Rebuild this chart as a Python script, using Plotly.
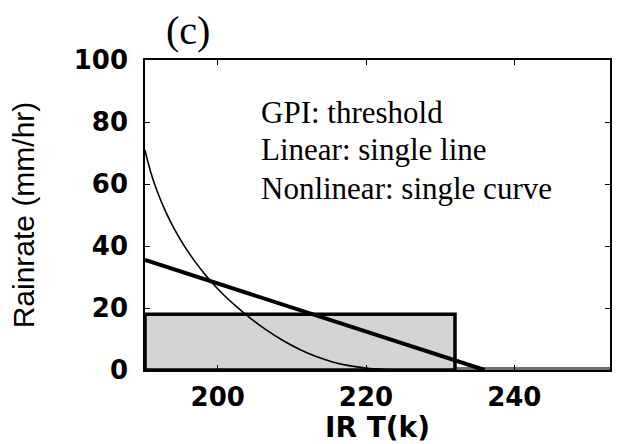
import plotly.graph_objects as go

# Data
gpi_T = [190.2, 190.2, 232.0, 232.0, 190.2]
gpi_R = [0, 18, 18, 0, 0]
zero_T = [232.0, 252.9, 252.9, 232.0]
zero_R = [0, 0, 1.0, 1.0]
lin_T = [190.2, 236.0]
lin_R = [35.5, 0.0]
nl_T = [190.2, 190.6, 191.3, 192.2, 193.0, 194.0, 195.0, 195.8, 197.0, 198.5, 200.0,
        201.0, 202.5, 204.3, 206.5, 208.8, 211.0, 213.2, 215.5, 217.7, 220.0, 222.5, 224.5]
nl_R = [71.0, 67.0, 61.3, 55.5, 51.0, 46.2, 42.0, 38.9, 34.8, 30.2, 26.2,
        23.8, 20.5, 16.9, 13.0, 9.5, 6.7, 4.4, 2.6, 1.4, 0.6, 0.15, 0.0]
x_ticks = [200, 220, 240]
y_ticks = [0, 20, 40, 60, 80, 100]
notes = ["GPI: threshold", "Linear: single line", "Nonlinear: single curve"]

fig = go.Figure()
fig.add_trace(go.Scatter(x=zero_T, y=zero_R, fill="toself", fillcolor="#707070",
                         line=dict(width=0), mode="lines", hoverinfo="skip"))
fig.add_trace(go.Scatter(x=gpi_T, y=gpi_R, fill="toself", fillcolor="#d4d4d4",
                         line=dict(color="black", width=3.5), mode="lines"))
fig.add_trace(go.Scatter(x=nl_T, y=nl_R, mode="lines",
                         line=dict(color="black", width=1.6, shape="spline", smoothing=0.6)))
fig.add_trace(go.Scatter(x=lin_T, y=lin_R, mode="lines",
                         line=dict(color="black", width=4)))

tickfont = dict(family="DejaVu Sans", size=26, color="black", weight="bold")
fig.update_xaxes(range=[190.2, 252.9], tickvals=x_ticks, ticks="inside", ticklen=5,
                 tickwidth=1.2, tickcolor="black", showline=True, linecolor="black",
                 linewidth=1.5, mirror="ticks", showgrid=False, zeroline=False,
                 tickfont=tickfont, ticklabelstandoff=3,
                 title=dict(text="IR T(k)", font=dict(family="DejaVu Sans", size=28, color="black",
                                                      weight="bold"),
                            standoff=2))
fig.update_yaxes(range=[0, 100], tickvals=y_ticks, ticks="inside", ticklen=5,
                 tickwidth=1.2, tickcolor="black", showline=True, linecolor="black",
                 linewidth=1.5, mirror="ticks", showgrid=False, zeroline=False,
                 tickfont=tickfont, ticklabelstandoff=10,
                 title=dict(text="Rainrate (mm/hr)", font=dict(family="Liberation Sans", size=30, color="black"),
                            standoff=30))

ys = [83.2, 71.0, 58.4]
for t, yv in zip(notes, ys):
    fig.add_annotation(x=205.6, y=yv, xref="x", yref="y", text=t, showarrow=False,
                       xanchor="left", yanchor="middle",
                       font=dict(family="Liberation Serif", size=31, color="black"))
fig.add_annotation(x=0.092, y=1.095, xref="paper", yref="paper", text="(c)", showarrow=False,
                   xanchor="center", yanchor="middle",
                   font=dict(family="Liberation Serif", size=40, color="black"))

fig.update_layout(width=618, height=444, margin=dict(l=145, r=6, t=60, b=74),
                  plot_bgcolor="white", paper_bgcolor="white", showlegend=False)
fig.write_html("out.html")
